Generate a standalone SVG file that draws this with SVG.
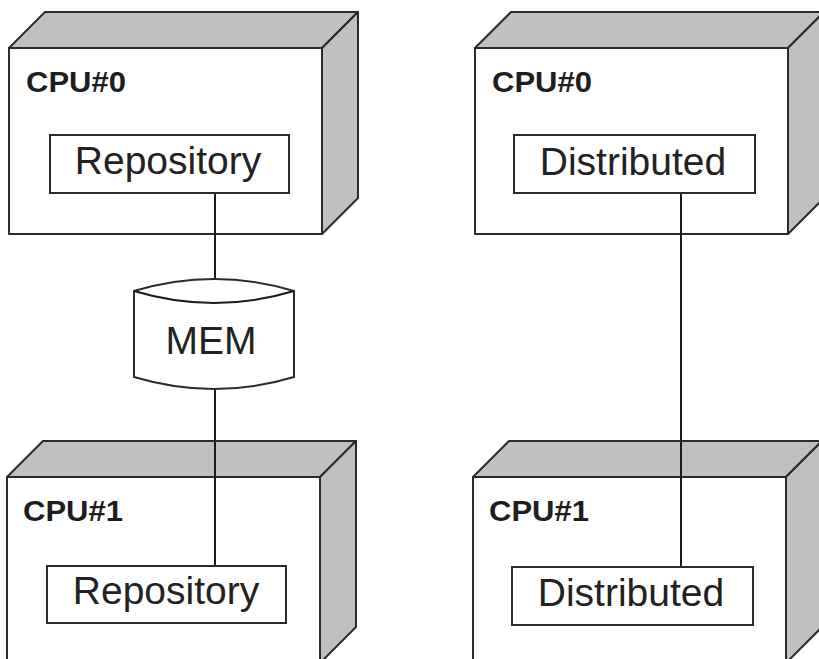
<svg xmlns="http://www.w3.org/2000/svg" width="819" height="659" viewBox="0 0 819 659">
  <style>
    .face { fill: #ffffff; stroke: #2b2b2b; stroke-width: 2; stroke-linejoin: round; }
    .side { fill: #c0c0c0; stroke: #2b2b2b; stroke-width: 2; stroke-linejoin: round; }
    .part { fill: #ffffff; stroke: #2b2b2b; stroke-width: 2; }
    .wire { stroke: #1a1a1a; stroke-width: 2; fill: none; }
    .cpu { font-family: "Liberation Sans", Arial, sans-serif; font-weight: bold; font-size: 29px; fill: #1e1e1e; }
    .lbl { font-family: "Liberation Sans", Arial, sans-serif; font-size: 39px; fill: #222222; text-anchor: middle; }
  </style>
  <rect width="819" height="659" fill="#ffffff"/>

  <!-- node boxes (3D) -->
  <g id="cpu0-left">
    <polygon class="side" points="9,48 45,12 358,12 322,48"/>
    <polygon class="side" points="322,48 358,12 358,198 322,234"/>
    <rect class="face" x="9" y="48" width="313" height="186"/>
    <text class="cpu" x="26" y="92" textLength="100" lengthAdjust="spacingAndGlyphs">CPU#0</text>
  </g>
  <g id="cpu0-right">
    <polygon class="side" points="475,48 511,12 824,12 788,48"/>
    <polygon class="side" points="788,48 824,12 824,198 788,234"/>
    <rect class="face" x="475" y="48" width="313" height="186"/>
    <text class="cpu" x="492" y="92" textLength="100" lengthAdjust="spacingAndGlyphs">CPU#0</text>
  </g>
  <g id="cpu1-left">
    <polygon class="side" points="7,477 43,441 356,441 320,477"/>
    <polygon class="side" points="320,477 356,441 356,627 320,663"/>
    <rect class="face" x="7" y="477" width="313" height="186"/>
    <text class="cpu" x="23" y="521" textLength="100" lengthAdjust="spacingAndGlyphs">CPU#1</text>
  </g>
  <g id="cpu1-right">
    <polygon class="side" points="473,477 509,441 822,441 786,477"/>
    <polygon class="side" points="786,477 822,441 822,627 786,663"/>
    <rect class="face" x="473" y="477" width="313" height="186"/>
    <text class="cpu" x="489" y="521" textLength="100" lengthAdjust="spacingAndGlyphs">CPU#1</text>
  </g>

  <!-- connectors -->
  <g id="connectors">
    <line class="wire" x1="215" y1="193" x2="215" y2="280"/>
    <line class="wire" x1="215" y1="389" x2="215" y2="566"/>
    <line class="wire" x1="681" y1="193" x2="681" y2="567"/>
  </g>

  <!-- components -->
  <g id="repo-top">
    <rect class="part" x="50" y="135" width="239" height="58"/>
    <text class="lbl" x="168" y="174">Repository</text>
  </g>
  <g id="dist-top">
    <rect class="part" x="514" y="135" width="241" height="58"/>
    <text class="lbl" x="633" y="175">Distributed</text>
  </g>
  <g id="mem">
    <path class="part" d="M134,291 Q214,267 294,291 L294,377 Q214,401 134,377 Z"/>
    <path class="wire" d="M134,291 Q214,315 294,291"/>
    <text class="lbl" x="211" y="354">MEM</text>
  </g>
  <g id="repo-bottom">
    <rect class="part" x="47" y="566" width="239" height="57"/>
    <text class="lbl" x="166" y="604">Repository</text>
  </g>
  <g id="dist-bottom">
    <rect class="part" x="512" y="567" width="241" height="58"/>
    <text class="lbl" x="631" y="606">Distributed</text>
  </g>
</svg>
